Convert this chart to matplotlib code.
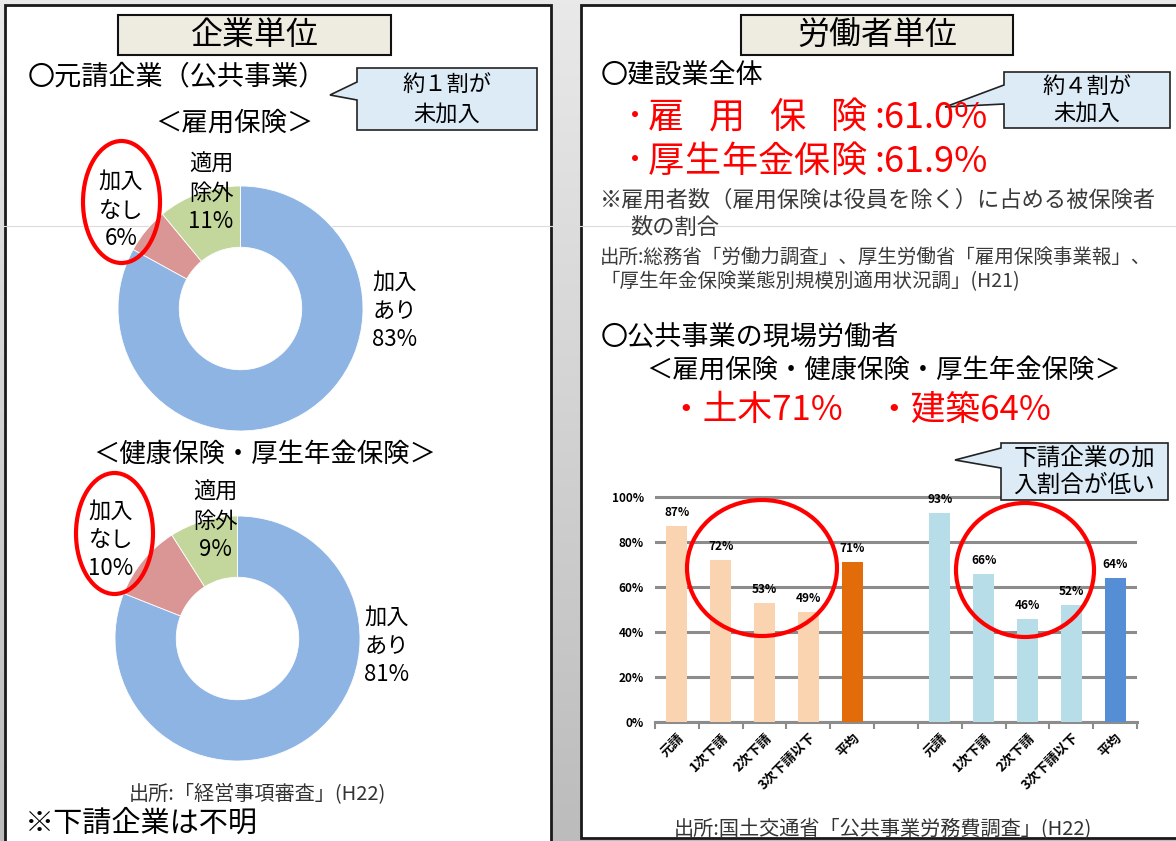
import numpy as np
import matplotlib
matplotlib.use("Agg")
import matplotlib.pyplot as plt
from matplotlib.patches import Rectangle, Ellipse, Polygon
from matplotlib.colors import LinearSegmentedColormap

plt.rcParams['font.family'] = ['Noto Sans CJK JP', 'DejaVu Sans']

W, H = 1176, 841

# ---------------------------------------------------------------------------
# Données
# ---------------------------------------------------------------------------
pie_labels = ["加入\nあり", "加入\nなし", "適用\n除外"]
pie_colors = ["#8eb4e3", "#d99694", "#c3d69b"]
koyou_values = [83, 6, 11]          # 雇用保険
kenpo_values = [81, 10, 9]          # 健康保険・厚生年金保険

kensetsu_labels = ["雇用保険", "厚生年金保険"]
kensetsu_values = [61.0, 61.9]

bar_categories = ["元請", "1次下請", "2次下請", "3次下請以下", "平均"]
doboku_values = [87, 72, 53, 49, 71]
kenchiku_values = [93, 66, 46, 52, 64]
y_ticks = [0, 20, 40, 60, 80, 100]

doboku_colors = ["#fad4b0"] * 4 + ["#e36c0a"]
kenchiku_colors = ["#b7dde8"] * 4 + ["#558ed5"]


fig = plt.figure(figsize=(W / 100, H / 100), dpi=100)


def px_axes(x0, y0, x1, y1):
    """Axes placé en pixels (origine en haut à gauche)."""
    return fig.add_axes([x0 / W, 1 - y1 / H, (x1 - x0) / W, (y1 - y0) / H])


# ---------------------------------------------------------------------------
# Fond
# ---------------------------------------------------------------------------
bg = px_axes(0, 0, W, H)
grad = np.linspace(0, 1, 256).reshape(-1, 1)
cmap = LinearSegmentedColormap.from_list("fond", ["#e9e9e9", "#bcbcbc"])
bg.imshow(grad, cmap=cmap, extent=[0, W, H, 0], aspect="auto")
bg.set_xlim(0, W)
bg.set_ylim(H, 0)
bg.axis("off")
bg.add_patch(Rectangle((5, 5), 546, 860, fc="white", ec="#1a1a1a", lw=2))
bg.add_patch(Rectangle((581, 5), 620, 833, fc="white", ec="#1a1a1a", lw=2))
bg.plot([0, W], [226, 226], color="#dcdcdc", lw=0.8)


# ---------------------------------------------------------------------------
# Donuts
# ---------------------------------------------------------------------------
def donut(cx, cy, r, values):
    ax = px_axes(cx - r, cy - r, cx + r, cy + r)
    ax.pie(values, colors=pie_colors, startangle=90, counterclock=False,
           radius=1, wedgeprops=dict(width=0.5, edgecolor="white", linewidth=0.6))
    ax.set_xlim(-1, 1)
    ax.set_ylim(-1, 1)
    ax.patch.set_alpha(0)
    return ax


donut(240.5, 308.5, 122.5, koyou_values)
donut(237.5, 638.5, 122.5, kenpo_values)

# ---------------------------------------------------------------------------
# Barres
# ---------------------------------------------------------------------------
ymax = 101
axb = px_axes(655, 722 - ymax * 2.25, 1137, 722)
x1 = np.arange(5)
x2 = np.arange(6, 11)
axb.bar(x1, doboku_values, width=0.48, color=doboku_colors, zorder=3)
axb.bar(x2, kenchiku_values, width=0.48, color=kenchiku_colors, zorder=3)
for xs, vals in [(x1, doboku_values), (x2, kenchiku_values)]:
    for x, v in zip(xs, vals):
        axb.text(x, v + 3, f"{v}%", ha="center", va="bottom", fontsize=8.5,
                 fontweight="bold", zorder=4)
axb.set_xlim(-0.5, 10.5)
axb.set_ylim(0, ymax)
axb.set_yticks(y_ticks)
axb.set_yticklabels([f"{t}%" for t in y_ticks], fontsize=8.5, fontweight="bold")
axb.yaxis.grid(True, color="#8c8c8c", lw=2.2)
axb.set_axisbelow(True)
axb.set_xticks(np.concatenate([x1, x2]))
axb.set_xticklabels(bar_categories * 2, rotation=45, ha="right",
                    rotation_mode="anchor", fontsize=9.5, fontweight="bold")
axb.set_xticks(np.arange(-0.5, 11, 1), minor=True)
axb.tick_params(axis="x", which="major", length=0, pad=6)
axb.tick_params(axis="x", which="minor", length=5, width=1.5, color="#8c8c8c")
axb.tick_params(axis="y", length=0, pad=8)
for s in ["left", "right", "top"]:
    axb.spines[s].set_visible(False)
axb.spines["bottom"].set_color("#8c8c8c")
axb.spines["bottom"].set_linewidth(2.2)
axb.patch.set_alpha(0)

# ---------------------------------------------------------------------------
# Textes et formes
# ---------------------------------------------------------------------------
ov = px_axes(0, 0, W, H)
ov.set_xlim(0, W)
ov.set_ylim(H, 0)
ov.axis("off")
ov.patch.set_alpha(0)


def callout(x0, y0, x1, y1, ya, tip, yb, lines, fs):
    pts = [(x0, y0), (x1, y0), (x1, y1), (x0, y1), (x0, yb), tip, (x0, ya)]
    ov.add_patch(Polygon(pts, closed=True, fc="#dcebf6", ec="#222222", lw=1.2))
    cx = (x0 + x1) / 2
    step = (y1 - y0) / (len(lines) + 0.1)
    for i, t in enumerate(lines):
        ov.text(cx, y0 + step * (i + 0.55), t, ha="center", va="center", fontsize=fs)


# titres encadrés
ov.add_patch(Rectangle((118, 15), 273, 40, fc="#eeece1", ec="#111111", lw=1.5))
ov.text(254.5, 35, "企業単位", ha="center", va="center", fontsize=23)
ov.add_patch(Rectangle((741, 15), 272, 40, fc="#eeece1", ec="#111111", lw=1.5))
ov.text(877, 35, "労働者単位", ha="center", va="center", fontsize=23)

# panneau gauche
ov.text(28, 77, "〇元請企業（公共事業）", ha="left", va="center", fontsize=19.5)
callout(357, 68, 537, 130, 82, (330, 95), 100, ["約１割が", "未加入"], 16)
ov.text(234, 123, "＜雇用保険＞", ha="center", va="center", fontsize=19)
ov.text(265, 454, "＜健康保険・厚生年金保険＞", ha="center", va="center", fontsize=19)

label_pos_1 = [(395, 311), (121, 210), (211, 193)]
label_pos_2 = [(387, 646), (111, 540), (215, 521)]
for vals, pos in [(koyou_values, label_pos_1), (kenpo_values, label_pos_2)]:
    for lab, v, (x, y) in zip(pie_labels, vals, pos):
        ov.text(x, y, f"{lab}\n{v}%", ha="center", va="center", fontsize=16,
                linespacing=1.3)

ov.add_patch(Ellipse((121.5, 202), 77, 122, fill=False, ec="#ff0000", lw=3))
ov.add_patch(Ellipse((114.5, 533.5), 77, 121, fill=False, ec="#ff0000", lw=3))

ov.text(257, 795, "出所:「経営事項審査」(H22)", ha="center", va="center",
        fontsize=14.5, color="#333333")
ov.text(25, 824, "※下請企業は不明", ha="left", va="center", fontsize=21)

# panneau droit
ov.text(601, 76, "〇建設業全体", ha="left", va="center", fontsize=19.5)
callout(1004, 72, 1170, 128, 85, (945, 107), 104, ["約４割が", "未加入"], 16)
red_fs = 26
char_w = 36  # largeur d'un caractère à red_fs, en pixels
for i, (lab, v) in enumerate(zip(kensetsu_labels, kensetsu_values)):
    y = 118 + i * 44
    ov.text(626, y, "･", ha="left", va="center", fontsize=red_fs, color="#ff0000")
    # alignement réparti sur la même largeur pour les deux lignes
    xs = np.linspace(648, 866 - char_w, len(lab))
    for ch, x in zip(lab, xs):
        ov.text(x, y, ch, ha="left", va="center", fontsize=red_fs, color="#ff0000")
    ov.text(874, y, f":{v:.1f}%", ha="left", va="center", fontsize=red_fs,
            color="#ff0000")

ov.text(600, 200, "※雇用者数（雇用保険は役員を除く）に占める被保険者",
        ha="left", va="center", fontsize=16, color="#3a3a3a")
ov.text(630, 227, "数の割合", ha="left", va="center", fontsize=16, color="#3a3a3a")
ov.text(600, 257, "出所:総務省「労働力調査」、厚生労働省「雇用保険事業報」、",
        ha="left", va="center", fontsize=14, color="#3a3a3a")
ov.text(600, 282, "「厚生年金保険業態別規模別適用状況調」(H21)",
        ha="left", va="center", fontsize=14, color="#3a3a3a")

ov.text(601, 337, "〇公共事業の現場労働者", ha="left", va="center", fontsize=19.5)
ov.text(646, 370, "＜雇用保険・健康保険・厚生年金保険＞", ha="left", va="center",
        fontsize=19)
ov.text(668, 410, f"・土木{doboku_values[-1]}%", ha="left", va="center",
        fontsize=25, color="#ff0000")
ov.text(876, 410, f"・建築{kenchiku_values[-1]}%", ha="left", va="center",
        fontsize=25, color="#ff0000")

callout(1001, 443, 1168, 500, 448, (955, 460), 468,
        ["下請企業の加", "入割合が低い"], 17)

ov.add_patch(Ellipse((762, 568), 150, 136, fill=False, ec="#ff0000", lw=3))
ov.add_patch(Ellipse((1025, 570), 138, 134, fill=False, ec="#ff0000", lw=3))

ov.text(883, 830, "出所:国土交通省「公共事業労務費調査」(H22)", ha="center",
        va="center", fontsize=14.5, color="#333333")

fig.savefig("out.png", dpi=100)
